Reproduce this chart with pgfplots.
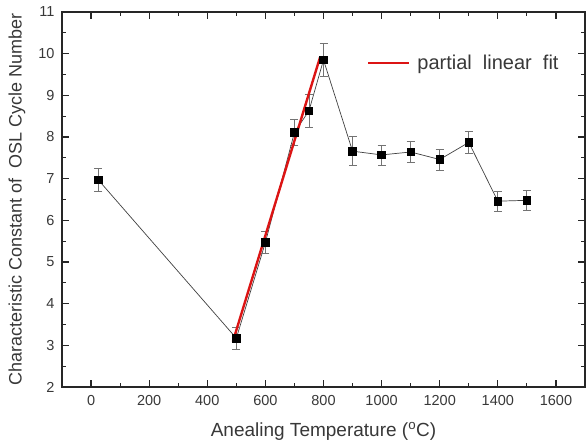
\documentclass[border=0pt]{standalone}
\usepackage{fontspec}
\setmainfont{Liberation Sans}
\usepackage{pgfplots}
\pgfplotsset{compat=1.18}
\definecolor{txt}{gray}{0.22}
\definecolor{errc}{gray}{0.45}
\definecolor{fitred}{RGB}{220,20,20}
\begin{document}
\begin{tikzpicture}
\begin{axis}[
  at={(0,0)}, anchor=south west,
  scale only axis, width=523bp, height=375bp,
  xmin=-100, xmax=1700, ymin=2, ymax=11,
  xtick={0,200,...,1600}, ytick={2,3,...,11},
  minor x tick num=1, minor y tick num=1,
  tick align=inside,
  major tick length=7bp, minor tick length=4bp,
  axis line style={line width=1.4bp, black!85},
  every tick/.style={line width=1.2bp, black!85},
  /pgf/number format/assume math mode=true,
  /pgf/number format/1000 sep={},
  tick label style={font=\fontsize{14.5bp}{16bp}\selectfont, text=txt},
  xticklabel style={yshift=-5bp},
  yticklabel style={xshift=-4bp},
  xlabel={Anealing Temperature ($^{\mathrm{o}}$C)},
  xlabel style={at={(axis description cs:0.5,0)}, anchor=north, inner sep=0pt,
    yshift=-35bp, font=\fontsize{19bp}{21bp}\selectfont, text=txt},
  ylabel={Characteristic Constant of\ \ OSL Cycle Number},
  ylabel style={at={([xshift=-45bp]axis description cs:0,0.5)}, anchor=center,
    inner sep=0pt, font=\fontsize{18bp}{20bp}\selectfont, text=txt},
  legend style={draw=none, fill=none, at={(axis cs:949,9.77)}, anchor=west,
    font=\fontsize{20bp}{22bp}\selectfont, text=txt, inner sep=0pt,
    nodes={inner sep=2bp}},
  legend image code/.code={\draw[#1] (0bp,0bp) -- (41bp,0bp);},
  legend cell align=left,
]
% measured characteristic constants with error bars
\addplot[forget plot, line width=0.7bp, black!75, mark=square*, mark size=3.8bp,
  mark options={black, solid},
  error bars/.cd, y dir=both, y explicit,
  error bar style={errc, line width=0.8bp},
  error mark options={errc, line width=0.8bp, mark size=4bp, rotate=90}]
  table[x=T, y=k, y error=e] {
T    k     e
25   6.97  0.27
500  3.17  0.26
600  5.47  0.26
700  8.11  0.32
750  8.63  0.39
800  9.85  0.40
900  7.66  0.35
1000 7.57  0.24
1100 7.64  0.25
1200 7.46  0.25
1300 7.87  0.27
1400 6.46  0.24
1500 6.48  0.25
};
% linear fit over the 500--800 range
\addplot[fitred, line width=2.4bp] coordinates {(488,3.09) (788,9.91)};
\addlegendentry{\hspace{5bp}partial\ \ linear\ \ fit}
\end{axis}
\pgfresetboundingbox
\path[use as bounding box] (-62bp,-54bp) rectangle (525bp,387bp);
\end{tikzpicture}
\end{document}
